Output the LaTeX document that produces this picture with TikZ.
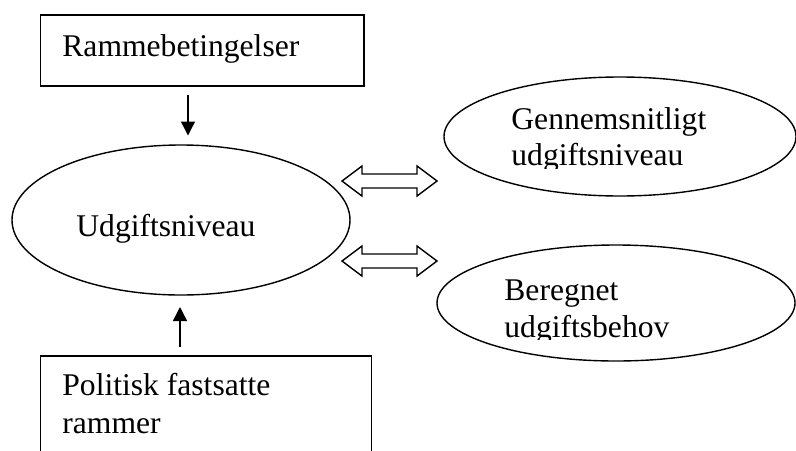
\documentclass[tikz,border=0pt]{standalone}
\usepackage{fontspec}
\setmainfont{Liberation Serif}
\usetikzlibrary{shapes.geometric,arrows.meta}
\begin{document}
\begin{tikzpicture}[x=0.5pt,y=-0.5pt,
  shapeline/.style={draw=black, line width=0.7pt},
  boxnode/.style={shapeline, rectangle, inner sep=0pt},
  ovalnode/.style={shapeline, ellipse, inner sep=0pt},
  labeltext/.style={inner sep=0pt, anchor=base west, font=\fontsize{15.8pt}{18.85pt}\selectfont},
  flowarrow/.style={line width=0.7pt, -{Triangle[width=7pt,length=7pt]}},
  blockarrow/.style={draw=black, line width=0.7pt, fill=white, line join=miter}]
\useasboundingbox (0,0) rectangle (796,450);
\fill[white] (0,0) rectangle (796,450);
\clip (0,0) rectangle (796,450);

% boxes and ovals
\node[boxnode, minimum width=161.7pt, minimum height=35.5pt] (rb) at (202.4,50.5) {};
\node[boxnode, minimum width=165.4pt, minimum height=57pt] (pr) at (206.1,413) {};
\node[ovalnode, minimum width=169pt, minimum height=75pt] (ud) at (181,220) {};
\node[ovalnode, minimum width=176pt, minimum height=59.5pt] (gn) at (620,136.5) {};
\node[ovalnode, minimum width=179pt, minimum height=58pt] (bu) at (616,303) {};

% texts
\node[labeltext] (trb) at (62,56) {Rammebetingelser};
\node[labeltext] (tud) at (76,236) {Udgiftsniveau};
\begin{scope}
  \clip (440,70) rectangle (796,168.5);
  \node[labeltext] (tgn1) at (511,129) {Gennemsnitligt};
  \node[labeltext] (tgn2) at (511,165.5) {udgiftsniveau};
\end{scope}
\begin{scope}
  \clip (440,240) rectangle (796,339.5);
  \node[labeltext] (tbu1) at (504,300) {Beregnet};
  \node[labeltext] (tbu2) at (504,337) {udgiftsbehov};
\end{scope}
\node[labeltext] (tpr1) at (62,395) {Politisk fastsatte};
\node[labeltext] (tpr2) at (62,433) {rammer};

% single arrows
\coordinate (a1s) at (188,95);
\coordinate (a1e) at (188,135.5);
\draw[flowarrow] (a1s) -- (a1e);
\coordinate (a2s) at (180,347);
\coordinate (a2e) at (180,307);
\draw[flowarrow] (a2s) -- (a2e);

% double block arrows
\coordinate (d1l) at (342,181);
\coordinate (d1r) at (437,181);
\draw[blockarrow] (d1l) -- ++(20,-15) -- ++(0,8) -- (417,174) -- ++(0,-8) -- (d1r)
  -- ++(-20,15) -- ++(0,-8) -- (362,188) -- ++(0,8) -- cycle;
\coordinate (d2l) at (342,261);
\coordinate (d2r) at (437,261);
\draw[blockarrow] (d2l) -- ++(20,-15) -- ++(0,8) -- (417,254) -- ++(0,-8) -- (d2r)
  -- ++(-20,15) -- ++(0,-8) -- (362,268) -- ++(0,8) -- cycle;
\end{tikzpicture}
\end{document}
